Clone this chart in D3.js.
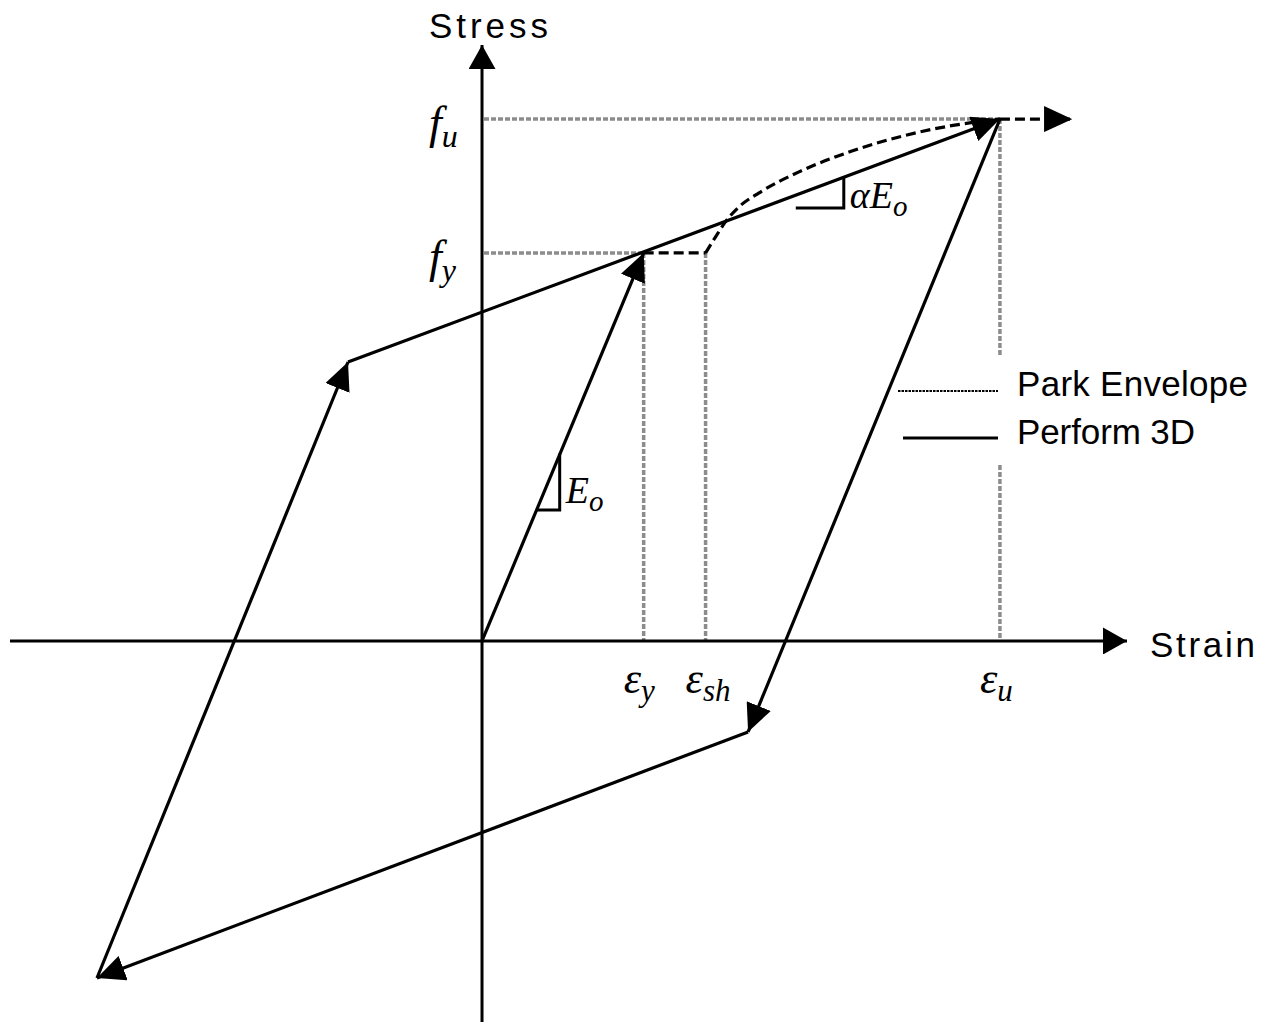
<!DOCTYPE html>
<html>
<head>
<meta charset="utf-8">
<script src="https://cdn.jsdelivr.net/npm/d3@7"></script>
<style>
  html, body { margin: 0; padding: 0; background: #fff; }
  svg { display: block; }
</style>
</head>
<body>
<svg id="chart" width="1261" height="1022"></svg>
<script>
// Axis extents (strain normalised by eps_y, stress normalised by f_y)
const strainExtent = [-2.92, 3.99];
const stressExtent = [-0.982, 1.536];

// Characteristic strains marked on the strain axis
const strainKeys   = ["y", "sh", "u"];
const strainValues = [1, 1.383, 3.204];

// Characteristic stresses marked on the stress axis
const stressKeys   = ["u", "y"];
const stressValues = [1.345, 1];

// Perform 3D cyclic path: each leg ends with an arrowhead
const performLegs = [
  [[0, 0], [1, 1]],
  [[-0.829, 0.719], [3.204, 1.345]],
  [[3.204, 1.345], [1.646, -0.2345]],
  [[1.646, -0.2345], [-2.382, -0.8686]],
  [[-2.382, -0.8686], [-0.829, 0.719]]
];

// Park envelope: yield plateau, strain-hardening curve, post-ultimate run-out
const parkPlateau = [[1, 1], [1.383, 1]];
const parkHardening = [
  [1.383, 1.000], [1.444, 1.041], [1.509, 1.082], [1.590, 1.119],
  [1.714, 1.155], [1.961, 1.209], [2.270, 1.260], [2.580, 1.299],
  [2.889, 1.327], [3.204, 1.345]
];
const parkRunout = [[3.204, 1.345], [3.65, 1.345]];

// Slope indicator triangles: point on line, corner, point on line
const slopeE0    = [[0.3365, 0.3376], [0.4805, 0.3376], [0.4805, 0.483]];
const slopeAlpha = [[1.941, 1.116], [2.238, 1.116], [2.238, 1.1985]];

const legendItems = ["Park Envelope", "Perform 3D"];

const svg = d3.select("#chart");
const x = d3.scaleLinear().domain(strainExtent).range([10, 1127]);
const y = d3.scaleLinear().domain(stressExtent).range([1022, 45]);

const line = d3.line().x(d => x(d[0])).y(d => y(d[1]));

// Arrowhead markers
const defs = svg.append("defs");
function marker(id, len, wid) {
  defs.append("marker")
    .attr("id", id)
    .attr("markerUnits", "userSpaceOnUse")
    .attr("viewBox", `0 ${-wid / 2} ${len} ${wid}`)
    .attr("markerWidth", len).attr("markerHeight", wid)
    .attr("refX", len).attr("refY", 0)
    .attr("orient", "auto")
    .append("path")
    .attr("d", `M0,${-wid / 2}L${len},0L0,${wid / 2}Z`)
    .attr("fill", "#000");
}
marker("arrow", 28, 26);
marker("axisArrow", 24, 27);

const grey = "#8c8c8c";
const guide = svg.append("g").attr("stroke", grey).attr("stroke-width", 3.5)
  .attr("stroke-dasharray", "5,2").attr("fill", "none");

// Horizontal guides from the stress axis
stressValues.forEach((s, i) => {
  const xe = strainValues[strainKeys.indexOf(stressKeys[i])];
  guide.append("line")
    .attr("x1", x(0) + 2).attr("x2", x(xe)).attr("y1", y(s)).attr("y2", y(s));
});

// Vertical guides down to the strain axis (eps_u one broken around the legend)
const legendTop = 355, legendBottom = 465;
strainValues.forEach((e, i) => {
  const top = strainKeys[i] === "u" ? stressValues[0] : 1;
  if (strainKeys[i] === "u") {
    guide.append("line").attr("x1", x(e)).attr("x2", x(e))
      .attr("y1", y(top)).attr("y2", legendTop);
    guide.append("line").attr("x1", x(e)).attr("x2", x(e))
      .attr("y1", legendBottom).attr("y2", y(0));
  } else {
    guide.append("line").attr("x1", x(e)).attr("x2", x(e))
      .attr("y1", y(top)).attr("y2", y(0));
  }
});

// Axes
svg.append("line")
  .attr("x1", x(strainExtent[0])).attr("x2", x(strainExtent[1]))
  .attr("y1", y(0)).attr("y2", y(0))
  .attr("stroke", "#000").attr("stroke-width", 3)
  .attr("marker-end", "url(#axisArrow)");
svg.append("line")
  .attr("x1", x(0)).attr("x2", x(0))
  .attr("y1", y(stressExtent[0])).attr("y2", y(stressExtent[1]))
  .attr("stroke", "#000").attr("stroke-width", 3)
  .attr("marker-end", "url(#axisArrow)");

// Park envelope (dashed)
const dash = svg.append("g").attr("stroke", "#000").attr("stroke-width", 3.2)
  .attr("fill", "none").attr("stroke-dasharray", "10,5");
dash.append("path").attr("d", line(parkPlateau));
dash.append("path").attr("d", line.curve(d3.curveMonotoneX)(parkHardening));
line.curve(d3.curveLinear);
dash.append("path").attr("d", line(parkRunout)).attr("marker-end", "url(#arrow)");

// Perform 3D path (solid, arrowed)
svg.append("g").attr("stroke", "#000").attr("stroke-width", 3.2).attr("fill", "none")
  .selectAll("path").data(performLegs).join("path")
  .attr("d", d => line(d))
  .attr("marker-end", "url(#arrow)");

// Slope triangles
svg.append("g").attr("stroke", "#000").attr("stroke-width", 3).attr("fill", "none")
  .selectAll("path").data([slopeE0, slopeAlpha]).join("path")
  .attr("d", d => line(d));

// Text
const sans = "'Liberation Sans', Arial, sans-serif";
const serif = "'Liberation Serif', 'Times New Roman', serif";

svg.append("text").attr("x", 429).attr("y", 38)
  .attr("font-family", sans).attr("font-size", 35)
  .attr("textLength", 119).attr("lengthAdjust", "spacing").text("Stress");
svg.append("text").attr("x", 1150).attr("y", 657)
  .attr("font-family", sans).attr("font-size", 35)
  .attr("textLength", 105).attr("lengthAdjust", "spacing").text("Strain");

function mathLabel(px, py, main, sub, size, subSize, dy) {
  const t = svg.append("text").attr("x", px).attr("y", py)
    .attr("font-family", serif).attr("font-style", "italic")
    .attr("font-size", size);
  t.append("tspan").text(main);
  if (sub) t.append("tspan").attr("font-size", subSize).attr("dy", dy).text(sub);
  return t;
}

// Stress-axis labels
stressValues.forEach((s, i) => {
  mathLabel(x(0) - 53, y(s) + 19, "f", stressKeys[i], 46, 32, 9);
});
// Strain-axis labels
strainValues.forEach((e, i) => {
  mathLabel(x(e) - 20, y(0) + 52, "\u03B5", strainKeys[i], 44, 31, 8);
});
// Slope labels
mathLabel(x(slopeE0[1][0]) + 6, y(slopeE0[1][1]) - 7, "E", "o", 38, 29, 8);
mathLabel(x(slopeAlpha[1][0]) + 6, y(slopeAlpha[1][1]) + 0, "\u03B1E", "o", 38, 29, 8);

// Legend
const legend = svg.append("g");
legend.append("line").attr("x1", 898).attr("x2", 998).attr("y1", 391).attr("y2", 391)
  .attr("stroke", "#000").attr("stroke-width", 2.2).attr("stroke-dasharray", "2.5,1");
legend.append("line").attr("x1", 903).attr("x2", 998).attr("y1", 438).attr("y2", 438)
  .attr("stroke", "#000").attr("stroke-width", 3);
legend.append("text").attr("x", 1017).attr("y", 396)
  .attr("font-family", sans).attr("font-size", 35)
  .attr("textLength", 231).attr("lengthAdjust", "spacing").text(legendItems[0]);
legend.append("text").attr("x", 1017).attr("y", 444)
  .attr("font-family", sans).attr("font-size", 35)
  .attr("textLength", 178).attr("lengthAdjust", "spacing").text(legendItems[1]);
</script>
</body>
</html>
